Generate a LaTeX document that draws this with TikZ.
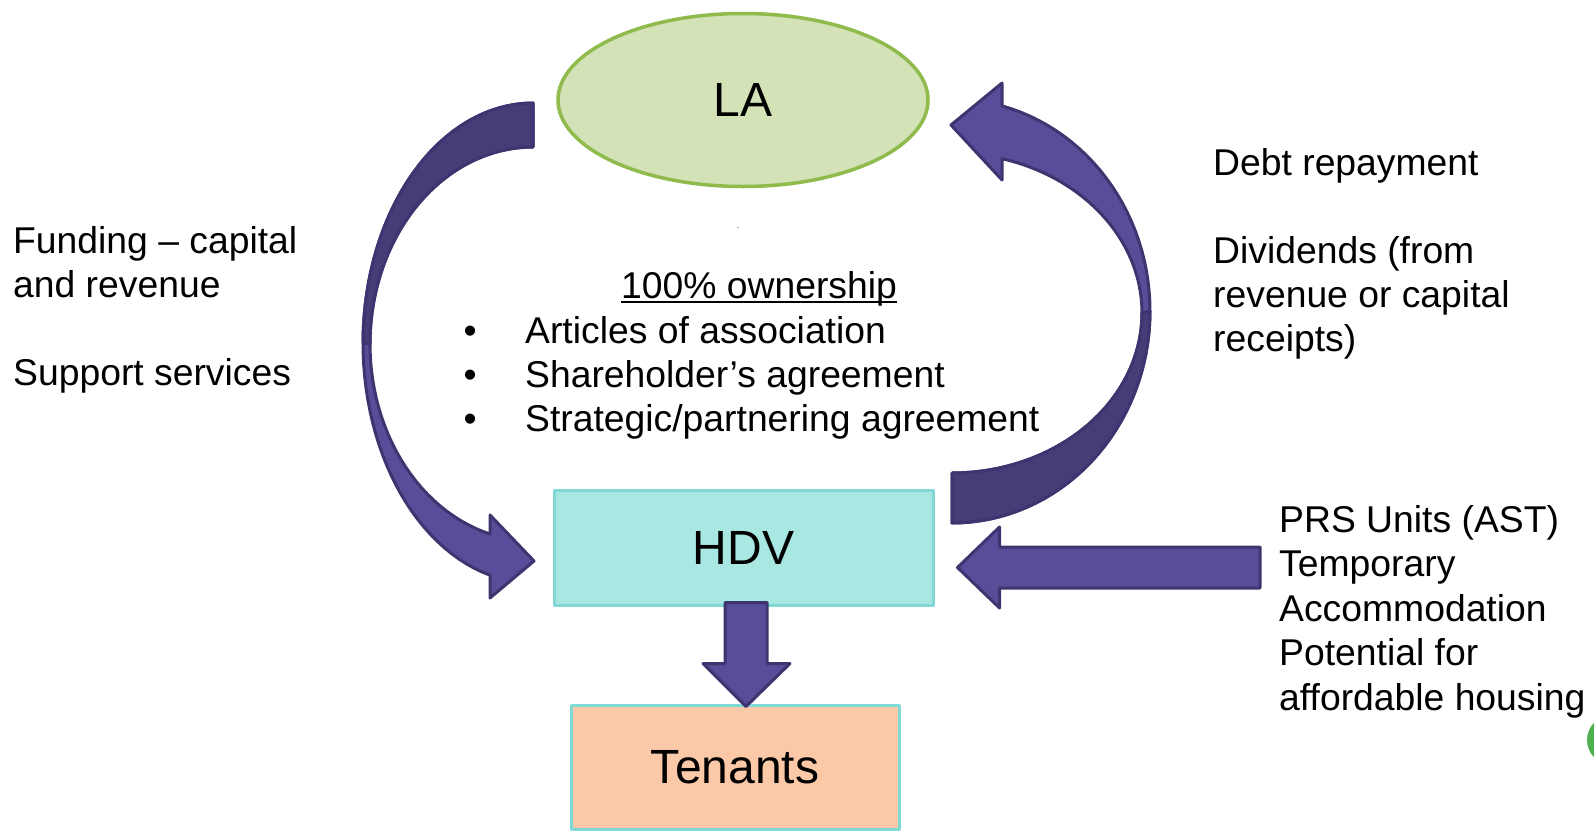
\documentclass[tikz,border=0pt]{standalone}
\usepackage{fontspec}
\setmainfont{Liberation Sans}
\usetikzlibrary{shapes,arrows}
\usetikzlibrary{positioning}
\usetikzlibrary{calc}

\definecolor{lafill}{HTML}{D3E2B7}
\definecolor{laline}{HTML}{8FBA4C}
\definecolor{hdvfill}{HTML}{A9E7E3}
\definecolor{boxline}{HTML}{7FD9D5}
\definecolor{tenfill}{HTML}{FCC9A8}
\definecolor{arrfront}{HTML}{594C98}
\definecolor{arrback}{HTML}{463C78}
\definecolor{arrline}{HTML}{3F3470}
\definecolor{cornergreen}{HTML}{4DAF4E}
\newcommand{\listbullet}{\makebox[61.5pt][l]{•}}

\begin{document}
\begin{tikzpicture}[x=1pt,y=-1pt,line join=round]
\tikzstyle{every node}=[font=\fontsize{37.3}{44}\selectfont,inner sep=0pt]
\tikzstyle{bigtext}=[font=\fontsize{48}{56}\selectfont]
\tikzstyle{blockarrow}=[fill=arrfront,draw=arrline,line width=3pt]
\tikzstyle{backface}=[fill=arrback,draw=arrline,line width=3pt]
\useasboundingbox (0,0) rectangle (1594,833);
\clip (0,0) rectangle (1594,833);

\path node[ellipse,draw=laline,fill=lafill,line width=3.5pt,minimum width=370pt,minimum height=173pt,bigtext] (la) at (743,100) {LA};
\path node[rectangle,draw=boxline,fill=hdvfill,line width=3pt,minimum width=379pt,minimum height=115pt,bigtext] (hdv) at (743.5,547.5) {HDV};
\path node[rectangle,draw=boxline,fill=tenfill,line width=3pt,minimum width=328pt,minimum height=124pt,bigtext] (ten) at (735,767) {Tenants};
\path node (dot) at (738,228) {\fontsize{8}{8}\selectfont .};

\path node[anchor=north west,align=left] (fund) at (13,222.2) {\strut Funding -- capital\\and revenue\\[44pt]Support services};
\path node[anchor=base west] (own) at (621,298) {100\% ownership};
\draw[line width=2.2pt] ($(own.base west)+(0,4)$) -- ($(own.base east)+(0,4)$);
\path node[anchor=north west,align=left] (docs) at (463.5,312.2) {\strut\listbullet Articles of association\\\listbullet Shareholder's agreement\\\listbullet Strategic/partnering agreement};
\path node[anchor=north west,align=left] (debt) at (1213,144.2) {\strut Debt repayment\\[44pt]Dividends (from\\revenue or capital\\receipts)};
\path node[anchor=north west,align=left,font=\fontsize{37.3}{44.5}\selectfont] (prs) at (1279,500.7) {\strut PRS Units (AST)\\Temporary\\Accommodation\\Potential for\\affordable housing};

% LA -> HDV
\path[blockarrow] plot[domain=0:165.35,samples=60] ({533-170*sin(\x)},{343-240*cos(\x)}) -- (490,598) -- (534,561) -- (490,515) -- plot[domain=164.7:0,samples=60] ({533-163*sin(\x)},{344-197*cos(\x)}) -- cycle;
\path[backface] plot[domain=0:90,samples=40] ({533-170*sin(\x)},{343-240*cos(\x)}) -- plot[domain=90:0,samples=40] ({533-163*sin(\x)},{344-197*cos(\x)}) -- cycle;

% HDV -> LA
\path[blockarrow] plot[domain=0:165.37,samples=60] ({952+198*sin(\x)},{311+212*cos(\x)}) -- (1002,83) -- (951,125) -- (1002,180) -- plot[domain=164.74:0,samples=60] ({952+190*sin(\x)},{313+160*cos(\x)}) -- cycle;
\path[backface] plot[domain=0:90,samples=40] ({952+198*sin(\x)},{311+212*cos(\x)}) -- plot[domain=90:0,samples=40] ({952+190*sin(\x)},{313+160*cos(\x)}) -- cycle;

% PRS -> HDV
\coordinate (ptip) at ($(hdv.east)+(23,20)$);
\coordinate (pend) at ($(prs.west)+(-19,-42)$);
\path[blockarrow] (ptip) -- ($(ptip)+(42,-40.5)$) -- ($(ptip)+(42,-20.5)$) -- (pend |- {$(ptip)+(0,-20.5)$}) -- (pend |- {$(ptip)+(0,20.5)$}) -- ($(ptip)+(42,20.5)$) -- ($(ptip)+(42,40.5)$) -- cycle;

% HDV -> Tenants
\coordinate (dtop) at ($(hdv.south)+(2.5,-4)$);
\coordinate (dtip) at ($(ten.north)+(11,3)$);
\path[blockarrow] ($(dtop)+(-21,0)$) -- ($(dtop)+(21,0)$) -- ($(dtip)+(21,-43)$) -- ($(dtip)+(44,-43)$) -- (dtip) -- ($(dtip)+(-43,-43)$) -- ($(dtip)+(-21,-43)$) -- cycle;

\fill[cornergreen] (1612,740) circle[radius=25];
\end{tikzpicture}
\end{document}
